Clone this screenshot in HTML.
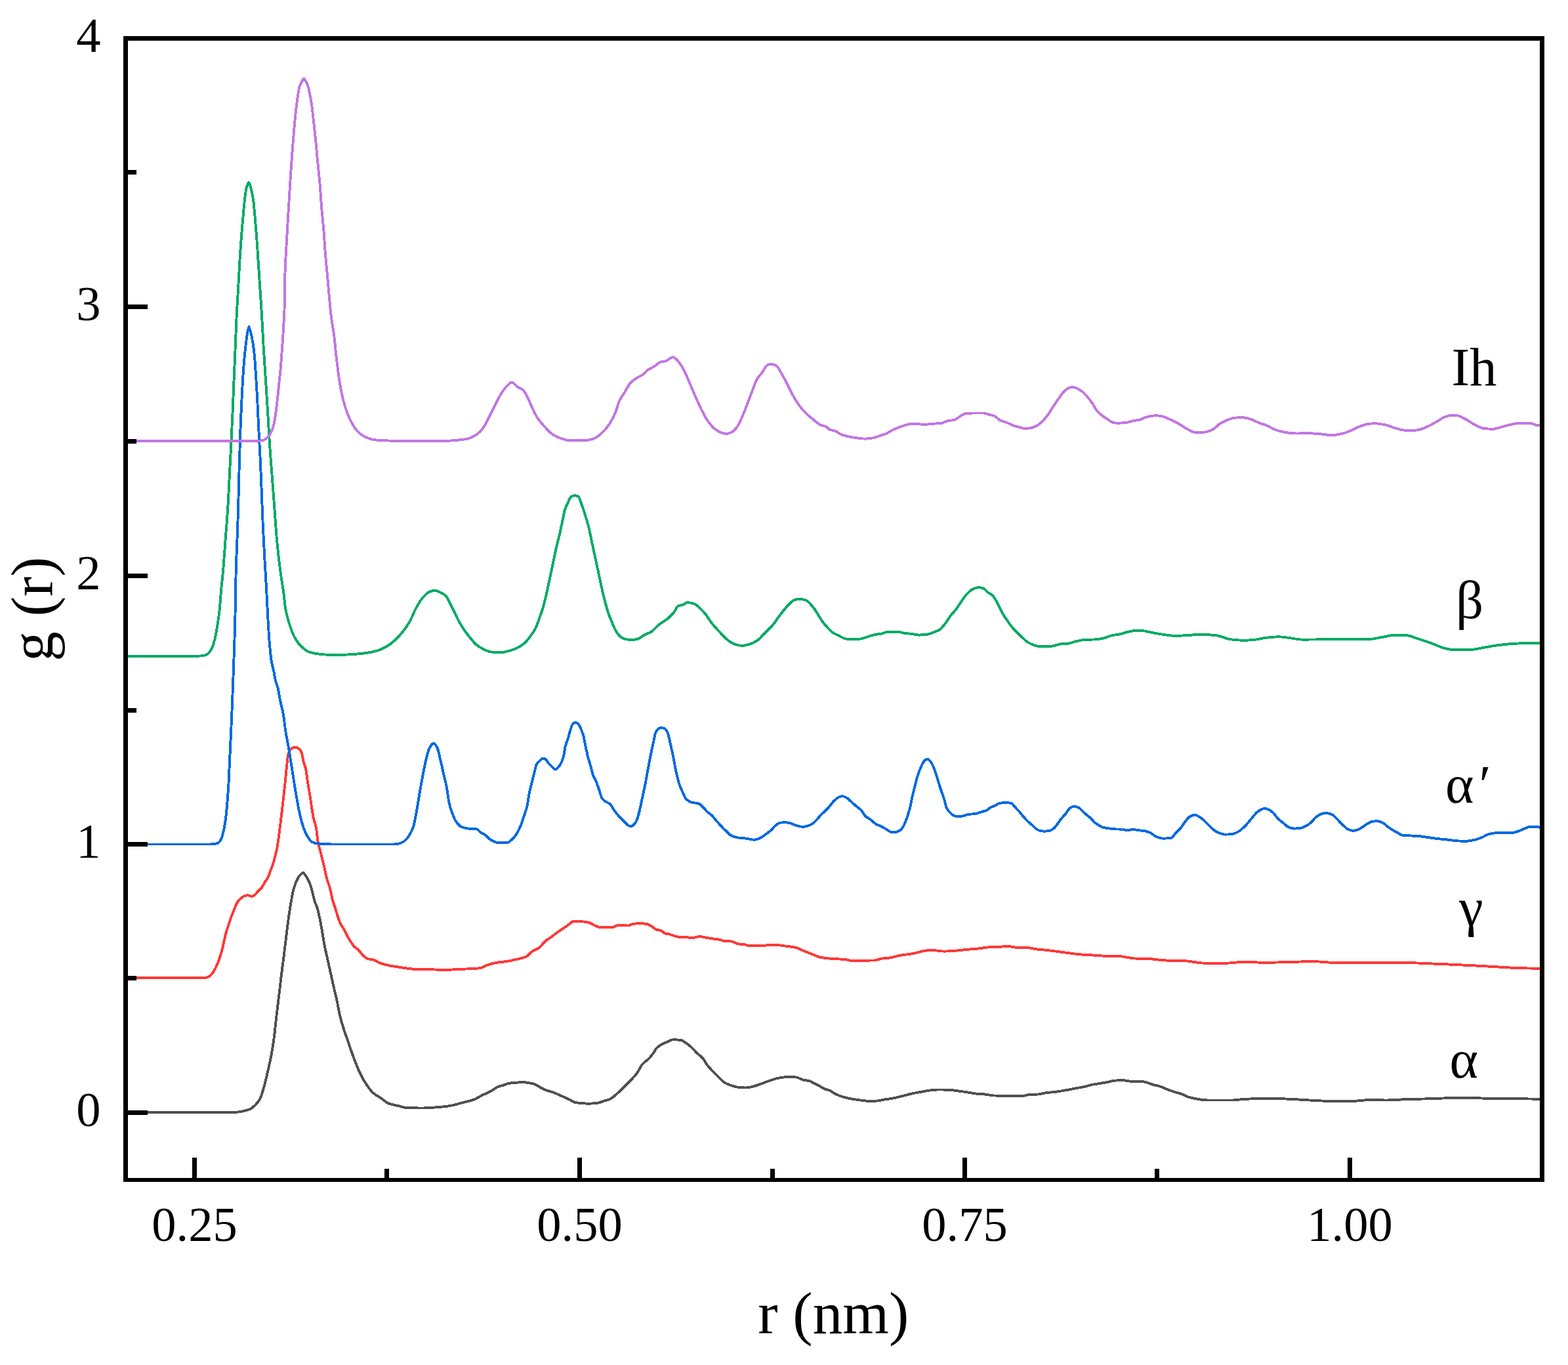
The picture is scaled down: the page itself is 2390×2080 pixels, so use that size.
<!DOCTYPE html>
<html lang="en">
<head>
<meta charset="utf-8">
<title>g(r) radial distribution functions</title>
<style>
html,body{margin:0;padding:0;background:#fff;}
body{width:2390px;height:2080px;overflow:hidden;}
svg{display:block;}
text{font-family:"Liberation Serif","DejaVu Serif",serif;fill:#000;}
.tick{font-size:74.5px;}
.title{font-size:91.1px;}
.lab{font-size:82.8px;}
.curve{fill:none;stroke-width:3.9;stroke-linejoin:bevel;stroke-linecap:butt;shape-rendering:crispEdges;}
</style>
</head>
<body>
<svg width="2390" height="2080" viewBox="0 0 2390 2080">
<rect x="0" y="0" width="2390" height="2080" fill="#fff"/>
<g class="curves">
<path class="curve" stroke="#505050" d="M191.5 1695.0C246.7 1695.0 301.8 1695.0 357.0 1695.0C361.1 1695.0 365.2 1694.1 369.3 1693.4C373.4 1692.7 377.4 1691.7 381.5 1689.9C384.0 1688.8 386.4 1686.4 388.9 1684.0C391.4 1681.6 393.8 1679.0 396.3 1674.5C397.9 1671.5 399.6 1665.7 401.2 1660.3C402.8 1654.9 404.5 1648.1 406.1 1641.4C407.7 1634.7 409.4 1627.8 411.0 1620.1C412.2 1614.3 413.5 1608.4 414.7 1601.2C415.8 1595.0 416.8 1588.1 417.9 1579.9C418.9 1572.5 419.8 1562.3 420.8 1553.9C421.6 1546.6 422.5 1539.5 423.3 1532.6C424.3 1524.5 425.2 1517.0 426.2 1509.0C427.3 1500.1 428.3 1490.3 429.4 1481.7C430.5 1473.1 431.5 1465.6 432.6 1457.1C433.6 1449.2 434.6 1440.8 435.6 1432.6C436.4 1426.0 437.2 1419.1 438.0 1412.9C439.0 1405.1 440.0 1397.5 441.0 1390.8C442.1 1383.7 443.1 1376.9 444.2 1371.2C445.4 1364.7 446.6 1358.2 447.8 1354.0C449.3 1348.7 450.8 1344.9 452.3 1341.7C453.7 1338.8 455.0 1336.3 456.4 1334.6C457.5 1333.3 458.5 1332.2 459.6 1331.4C460.4 1330.8 461.3 1329.9 462.1 1329.9C462.9 1329.9 463.6 1331.5 464.4 1332.4C465.4 1333.7 466.5 1335.1 467.5 1336.8C469.1 1339.5 470.8 1342.6 472.4 1346.7C473.6 1349.8 474.9 1354.4 476.1 1358.9C477.3 1363.4 478.6 1369.8 479.8 1373.7C481.0 1377.6 482.3 1379.5 483.5 1383.5C484.7 1387.4 485.9 1392.7 487.1 1398.2C488.3 1403.9 489.6 1411.0 490.8 1417.9C492.0 1424.8 493.3 1433.6 494.5 1440.0C496.1 1448.4 497.8 1454.7 499.4 1462.1C501.0 1469.5 502.7 1476.9 504.3 1484.2C506.0 1491.7 507.6 1499.2 509.3 1506.6C510.9 1513.8 512.6 1520.2 514.2 1527.9C515.4 1533.7 516.7 1541.6 517.9 1546.8C519.9 1555.4 522.0 1561.7 524.0 1568.1C526.5 1575.9 528.9 1582.3 531.4 1589.4C533.8 1596.5 536.3 1604.2 538.7 1610.7C541.6 1618.4 544.4 1625.8 547.3 1632.0C550.2 1638.2 553.0 1643.9 555.9 1648.5C560.0 1655.0 564.1 1661.3 568.2 1665.0C572.3 1668.7 576.4 1670.5 580.5 1673.3C584.6 1676.1 588.7 1680.1 592.8 1681.6C597.7 1683.4 602.6 1684.0 607.5 1685.2C611.6 1686.2 615.7 1688.1 619.8 1688.2C628.0 1688.4 636.1 1688.5 644.3 1688.5C652.5 1688.5 660.8 1687.6 669.0 1687.0C672.7 1686.7 676.3 1686.4 680.0 1686.0C683.6 1685.6 687.3 1684.8 690.9 1684.0C695.4 1683.0 700.0 1681.5 704.5 1680.3C710.8 1678.6 717.2 1677.6 723.5 1675.2C727.1 1673.8 730.8 1671.0 734.4 1669.2C738.9 1666.9 743.5 1665.3 748.0 1662.9C751.6 1661.0 755.3 1657.5 758.9 1656.1C761.6 1655.0 764.3 1654.5 767.0 1653.7C770.2 1652.7 773.3 1651.2 776.5 1650.7C780.6 1650.1 784.7 1650.0 788.8 1649.6C791.5 1649.3 794.2 1648.8 796.9 1648.8C799.6 1648.8 802.4 1649.7 805.1 1650.1C807.8 1650.5 810.6 1650.8 813.3 1651.5C816.0 1652.2 818.7 1654.2 821.4 1655.6C824.1 1657.1 826.9 1659.1 829.6 1660.2C834.1 1662.1 838.7 1662.9 843.2 1664.6C847.7 1666.3 852.3 1668.5 856.8 1670.5C860.4 1672.1 864.1 1673.7 867.7 1675.4C870.9 1676.9 874.0 1679.6 877.2 1680.1C880.4 1680.6 883.5 1680.9 886.7 1681.1C890.3 1681.4 894.0 1681.7 897.6 1681.7C902.1 1681.7 906.7 1681.2 911.2 1680.6C914.8 1680.1 918.4 1678.4 922.0 1677.3C924.7 1676.4 927.5 1675.9 930.2 1674.6C932.9 1673.3 935.7 1670.7 938.4 1668.4C941.1 1666.2 943.8 1663.6 946.5 1661.0C949.2 1658.4 952.0 1655.6 954.7 1652.9C957.4 1650.2 960.1 1647.6 962.8 1644.7C965.5 1641.7 968.3 1638.9 971.0 1635.2C973.7 1631.5 976.5 1624.7 979.2 1621.6C982.4 1618.0 985.5 1616.6 988.7 1613.4C991.0 1611.1 993.2 1608.3 995.5 1605.3C997.3 1602.9 999.1 1598.9 1000.9 1597.1C1003.6 1594.3 1006.4 1592.6 1009.1 1591.1C1011.8 1589.6 1014.5 1588.7 1017.2 1587.6C1019.9 1586.5 1022.7 1584.3 1025.4 1584.3C1029.5 1584.3 1033.5 1584.5 1037.6 1584.9C1040.3 1585.2 1043.1 1587.7 1045.8 1589.5C1048.5 1591.3 1051.2 1593.4 1053.9 1595.8C1056.6 1598.3 1059.4 1601.9 1062.1 1604.5C1065.3 1607.6 1068.4 1609.2 1071.6 1612.9C1073.4 1615.0 1075.3 1619.1 1077.1 1621.6C1079.8 1625.3 1082.5 1628.2 1085.2 1631.1C1088.4 1634.5 1091.5 1637.5 1094.7 1640.6C1097.9 1643.7 1101.1 1647.7 1104.3 1649.6C1107.9 1651.7 1111.5 1653.1 1115.1 1654.2C1118.7 1655.3 1122.4 1656.6 1126.0 1656.9C1129.6 1657.2 1133.3 1657.5 1136.9 1657.5C1140.5 1657.5 1144.2 1656.4 1147.8 1655.6C1152.3 1654.6 1156.9 1652.6 1161.4 1651.0C1165.9 1649.4 1170.5 1647.6 1175.0 1646.1C1178.6 1644.9 1182.3 1643.4 1185.9 1642.8C1190.4 1642.0 1194.9 1641.2 1199.4 1641.2C1203.9 1641.2 1208.5 1641.3 1213.0 1641.4C1216.6 1641.5 1220.3 1644.6 1223.9 1645.5C1227.5 1646.4 1231.2 1646.4 1234.8 1647.4C1236.5 1647.9 1238.3 1649.5 1240.0 1650.4C1242.7 1651.8 1245.5 1652.8 1248.2 1654.2C1250.9 1655.6 1253.6 1658.0 1256.3 1659.1C1259.0 1660.2 1261.8 1660.5 1264.5 1661.6C1267.2 1662.7 1269.9 1665.1 1272.6 1666.5C1276.2 1668.3 1279.9 1670.0 1283.5 1671.1C1287.1 1672.2 1290.8 1673.1 1294.4 1673.8C1298.9 1674.7 1303.5 1675.4 1308.0 1676.0C1312.5 1676.6 1317.1 1677.6 1321.6 1677.6C1326.1 1677.6 1330.7 1677.6 1335.2 1677.6C1339.7 1677.6 1344.3 1676.1 1348.8 1675.4C1353.3 1674.7 1357.9 1674.2 1362.4 1673.3C1366.9 1672.4 1371.5 1671.1 1376.0 1670.0C1380.5 1668.9 1385.1 1667.5 1389.6 1666.5C1394.1 1665.5 1398.7 1664.8 1403.2 1664.0C1407.7 1663.2 1412.3 1662.1 1416.8 1661.6C1421.3 1661.1 1425.9 1660.5 1430.4 1660.5C1435.8 1660.5 1441.3 1660.6 1446.7 1660.7C1451.2 1660.8 1455.8 1661.8 1460.3 1662.4C1464.8 1663.0 1469.4 1663.6 1473.9 1664.3C1478.4 1665.0 1483.0 1666.0 1487.5 1666.5C1492.0 1667.0 1496.6 1667.1 1501.1 1667.5C1505.6 1667.9 1510.2 1669.4 1514.7 1669.5C1519.2 1669.6 1523.8 1669.7 1528.3 1669.7C1539.2 1669.7 1550.0 1669.7 1560.9 1669.7C1563.6 1669.7 1566.4 1667.9 1569.1 1667.8C1573.6 1667.6 1578.2 1667.7 1582.7 1667.5C1586.3 1667.4 1589.9 1665.9 1593.5 1665.4C1599.0 1664.6 1604.4 1664.4 1609.9 1663.7C1615.3 1663.0 1620.8 1662.0 1626.2 1661.0C1630.7 1660.2 1635.3 1659.1 1639.8 1658.3C1644.3 1657.5 1648.9 1656.9 1653.4 1655.9C1657.0 1655.1 1660.7 1653.6 1664.3 1652.9C1668.8 1652.0 1673.4 1651.5 1677.9 1650.7C1681.5 1650.1 1685.1 1649.5 1688.7 1648.8C1692.3 1648.1 1696.0 1646.9 1699.6 1646.6C1703.2 1646.3 1706.9 1646.1 1710.5 1646.1C1715.0 1646.1 1719.6 1647.6 1724.1 1647.7C1729.5 1647.9 1735.0 1647.8 1740.4 1648.0C1743.1 1648.1 1745.9 1648.9 1748.6 1649.6C1751.3 1650.3 1754.0 1651.8 1756.7 1652.6C1760.3 1653.7 1764.0 1654.2 1767.6 1655.3C1771.2 1656.4 1774.9 1658.3 1778.5 1659.7C1782.1 1661.1 1785.8 1662.5 1789.4 1663.7C1792.9 1664.8 1796.5 1665.5 1800.0 1666.7C1803.6 1667.9 1807.3 1670.3 1810.9 1671.4C1815.4 1672.8 1820.0 1673.9 1824.5 1674.6C1829.9 1675.5 1835.4 1676.5 1840.8 1676.5C1853.5 1676.5 1866.2 1676.5 1878.9 1676.5C1884.3 1676.5 1889.8 1675.2 1895.2 1674.9C1908.8 1674.3 1922.4 1673.8 1936.0 1673.8C1946.9 1673.8 1957.7 1674.4 1968.6 1674.9C1979.5 1675.4 1990.3 1676.3 2001.2 1676.8C2010.3 1677.2 2019.3 1677.9 2028.4 1677.9C2039.3 1677.9 2050.2 1677.9 2061.1 1677.9C2070.2 1677.9 2079.2 1676.0 2088.3 1676.0C2096.5 1676.0 2104.6 1676.5 2112.8 1676.5C2124.6 1676.5 2136.3 1675.2 2148.1 1674.9C2159.0 1674.6 2169.8 1674.6 2180.7 1674.3C2189.8 1674.1 2198.8 1673.3 2207.9 1673.3C2221.5 1673.3 2235.1 1673.3 2248.7 1673.3C2257.8 1673.3 2266.8 1674.0 2275.9 1674.1C2289.5 1674.2 2303.1 1674.2 2316.7 1674.3C2328.0 1674.4 2339.2 1674.6 2350.5 1674.9"/>
<path class="curve" stroke="#FF3838" d="M191.5 1490.0C231.9 1490.0 272.4 1490.0 312.8 1490.0C314.4 1490.0 316.1 1489.3 317.7 1488.6C319.7 1487.7 321.8 1485.5 323.8 1483.0C325.9 1480.5 327.9 1476.2 330.0 1471.9C331.6 1468.5 333.3 1464.4 334.9 1459.6C336.5 1454.8 338.2 1449.0 339.8 1442.4C341.0 1437.4 342.3 1430.0 343.5 1425.2C344.7 1420.4 346.0 1416.9 347.2 1413.0C348.8 1407.8 350.5 1402.7 352.1 1398.2C353.7 1393.7 355.4 1389.9 357.0 1386.0C358.6 1382.1 360.3 1377.3 361.9 1374.9C363.9 1371.9 366.0 1369.9 368.0 1368.3C369.7 1367.0 371.3 1365.5 373.0 1365.1C374.6 1364.7 376.3 1364.3 377.9 1364.3C379.9 1364.3 382.0 1365.8 384.0 1365.8C385.2 1365.8 386.5 1365.0 387.7 1364.3C389.3 1363.4 391.0 1360.6 392.6 1358.9C394.6 1356.8 396.7 1355.4 398.7 1352.8C400.4 1350.7 402.0 1346.9 403.7 1344.2C405.3 1341.6 407.0 1340.0 408.6 1336.8C409.8 1334.4 411.0 1330.2 412.2 1327.0C413.4 1323.7 414.7 1320.9 415.9 1317.2C416.8 1314.4 417.8 1311.1 418.7 1307.5C419.8 1303.2 421.0 1298.7 422.1 1292.9C422.9 1288.8 423.7 1283.7 424.5 1278.2C425.3 1272.5 426.2 1265.2 427.0 1258.5C427.8 1252.1 428.6 1245.7 429.4 1238.9C430.2 1231.8 431.1 1224.2 431.9 1216.8C432.7 1209.4 433.6 1202.6 434.4 1194.7C435.2 1187.1 436.0 1177.3 436.8 1170.1C437.6 1162.6 438.5 1153.1 439.3 1150.0C440.5 1145.4 441.8 1142.4 443.0 1141.5C445.4 1139.8 447.9 1138.7 450.3 1138.7C452.4 1138.7 454.4 1139.9 456.5 1141.5C457.7 1142.4 458.9 1144.7 460.1 1148.0C460.9 1150.3 461.8 1157.0 462.6 1160.3C463.8 1165.3 465.1 1166.8 466.3 1172.6C467.1 1176.3 467.9 1184.6 468.7 1189.8C469.9 1197.9 471.2 1204.0 472.4 1211.9C473.2 1217.3 474.1 1223.7 474.9 1229.1C475.7 1234.3 476.5 1239.8 477.3 1243.8C478.9 1251.9 480.6 1254.5 482.2 1263.5C483.0 1268.1 483.9 1278.6 484.7 1283.1C485.9 1289.7 487.2 1292.9 488.4 1297.8C489.3 1301.5 490.3 1305.3 491.2 1309.0C492.3 1313.4 493.4 1317.3 494.5 1322.0C495.7 1327.3 497.0 1334.7 498.2 1339.3C499.8 1345.3 501.5 1348.0 503.1 1354.0C504.3 1358.5 505.6 1366.6 506.8 1371.2C508.4 1377.2 510.1 1380.8 511.7 1386.0C512.9 1389.9 514.2 1394.6 515.4 1398.2C516.6 1401.8 517.9 1405.6 519.1 1408.0C520.7 1411.2 522.4 1412.6 524.0 1415.4C525.6 1418.2 527.3 1422.1 528.9 1425.2C530.5 1428.3 532.2 1431.3 533.8 1433.8C535.9 1437.0 537.9 1440.3 540.0 1442.4C542.0 1444.5 544.1 1445.4 546.1 1447.3C548.6 1449.6 551.0 1453.7 553.5 1455.9C555.9 1458.1 558.4 1460.8 560.8 1461.3C563.3 1461.8 565.7 1461.7 568.2 1462.1C571.5 1462.7 574.7 1465.8 578.0 1467.0C582.1 1468.6 586.2 1469.8 590.3 1470.7C596.0 1472.0 601.8 1472.7 607.5 1473.6C615.7 1474.8 623.8 1476.5 632.0 1476.8C640.2 1477.1 648.4 1477.1 656.6 1477.3C664.4 1477.5 672.2 1477.9 680.0 1477.9C685.4 1477.9 690.9 1477.3 696.3 1477.1C702.7 1476.8 709.0 1476.6 715.4 1476.3C720.8 1476.0 726.3 1475.9 731.7 1475.2C735.3 1474.8 739.0 1471.8 742.6 1470.6C747.1 1469.1 751.6 1467.8 756.1 1467.0C761.6 1466.0 767.0 1465.8 772.5 1464.9C777.0 1464.2 781.6 1463.2 786.1 1462.1C791.5 1460.8 797.0 1460.0 802.4 1457.5C805.1 1456.3 807.8 1452.0 810.5 1450.2C814.1 1447.8 817.8 1447.1 821.4 1444.5C824.6 1442.3 827.7 1437.1 830.9 1434.4C834.1 1431.7 837.3 1429.9 840.5 1427.6C844.1 1425.0 847.7 1421.9 851.3 1419.4C854.5 1417.2 857.7 1415.4 860.9 1413.2C863.6 1411.3 866.3 1409.2 869.0 1407.2C870.5 1406.1 872.1 1403.9 873.6 1403.9C878.9 1403.9 884.1 1404.2 889.4 1404.5C892.1 1404.7 894.9 1405.1 897.6 1405.8C900.3 1406.5 903.0 1408.7 905.7 1409.9C908.0 1410.9 910.2 1412.3 912.5 1412.6C915.7 1413.0 918.8 1413.2 922.0 1413.2C925.6 1413.2 929.3 1413.2 932.9 1413.2C936.1 1413.2 939.2 1409.9 942.4 1409.9C947.4 1409.9 952.4 1410.5 957.4 1410.5C960.1 1410.5 962.9 1407.9 965.6 1407.7C969.2 1407.4 972.8 1407.2 976.4 1407.2C979.6 1407.2 982.8 1407.5 986.0 1408.0C988.7 1408.4 991.4 1410.5 994.1 1412.1C996.4 1413.4 998.6 1416.0 1000.9 1416.7C1003.2 1417.4 1005.4 1417.4 1007.7 1418.1C1009.5 1418.7 1011.4 1421.6 1013.2 1422.2C1015.4 1422.9 1017.7 1423.0 1019.9 1423.5C1022.2 1424.0 1024.4 1425.0 1026.7 1425.7C1029.4 1426.5 1032.2 1427.8 1034.9 1427.9C1039.0 1428.0 1043.0 1428.0 1047.1 1428.1C1049.4 1428.2 1051.6 1429.5 1053.9 1429.5C1058.0 1429.5 1062.1 1427.1 1066.2 1427.1C1069.8 1427.1 1073.5 1428.4 1077.1 1429.0C1080.7 1429.6 1084.3 1430.1 1087.9 1430.6C1090.6 1431.0 1093.4 1431.2 1096.1 1431.7C1099.3 1432.3 1102.4 1434.4 1105.6 1434.4C1108.3 1434.4 1111.1 1434.4 1113.8 1434.4C1117.9 1434.4 1121.9 1438.1 1126.0 1438.5C1128.7 1438.8 1131.5 1438.7 1134.2 1439.0C1136.9 1439.3 1139.6 1441.2 1142.3 1441.2C1145.9 1441.2 1149.6 1441.2 1153.2 1441.2C1158.6 1441.2 1164.1 1440.7 1169.5 1440.4C1173.1 1440.2 1176.8 1439.8 1180.4 1439.8C1185.8 1439.8 1191.3 1440.8 1196.7 1441.5C1202.6 1442.2 1208.5 1442.8 1214.4 1444.2C1217.6 1445.0 1220.7 1447.2 1223.9 1448.5C1229.3 1450.8 1234.6 1452.7 1240.0 1454.8C1243.6 1456.2 1247.3 1458.2 1250.9 1458.9C1256.3 1459.9 1261.8 1460.4 1267.2 1460.8C1274.5 1461.4 1281.7 1461.4 1289.0 1462.1C1291.7 1462.4 1294.4 1463.8 1297.1 1463.8C1308.9 1463.8 1320.7 1463.7 1332.5 1463.5C1336.1 1463.4 1339.7 1461.3 1343.3 1460.8C1347.8 1460.1 1352.4 1460.1 1356.9 1459.4C1361.4 1458.7 1366.0 1456.9 1370.5 1456.1C1376.9 1454.9 1383.2 1454.5 1389.6 1453.4C1394.1 1452.6 1398.7 1451.1 1403.2 1450.2C1407.7 1449.3 1412.3 1448.0 1416.8 1448.0C1420.4 1448.0 1424.1 1448.3 1427.7 1448.5C1431.3 1448.7 1434.9 1449.6 1438.5 1449.6C1443.9 1449.6 1449.4 1449.2 1454.8 1448.8C1461.2 1448.4 1467.5 1447.5 1473.9 1446.9C1480.2 1446.3 1486.6 1446.0 1492.9 1445.3C1497.4 1444.8 1502.0 1443.7 1506.5 1443.4C1511.9 1443.1 1517.4 1443.0 1522.8 1442.8C1527.3 1442.6 1531.9 1442.0 1536.4 1442.0C1540.9 1442.0 1545.5 1443.7 1550.0 1443.9C1555.4 1444.1 1560.9 1444.0 1566.3 1444.2C1570.8 1444.4 1575.4 1445.8 1579.9 1446.4C1585.4 1447.1 1590.8 1447.4 1596.3 1448.0C1602.6 1448.7 1609.0 1449.6 1615.3 1450.4C1620.7 1451.1 1626.2 1451.9 1631.6 1452.6C1637.0 1453.3 1642.5 1454.1 1647.9 1454.5C1654.3 1455.0 1660.6 1455.2 1667.0 1455.6C1672.4 1455.9 1677.9 1456.5 1683.3 1456.7C1691.5 1457.0 1699.6 1456.9 1707.8 1457.2C1711.4 1457.3 1715.0 1458.4 1718.6 1458.9C1722.2 1459.5 1725.9 1460.3 1729.5 1460.5C1736.8 1460.8 1744.0 1460.7 1751.3 1461.0C1756.7 1461.2 1762.2 1462.3 1767.6 1462.7C1773.0 1463.1 1778.5 1463.8 1783.9 1463.8C1789.3 1463.8 1794.6 1463.7 1800.0 1463.7C1805.4 1463.7 1810.9 1464.8 1816.3 1465.4C1822.7 1466.1 1829.0 1467.6 1835.4 1467.6C1847.2 1467.6 1858.9 1467.6 1870.7 1467.6C1878.9 1467.6 1887.0 1465.7 1895.2 1465.7C1906.1 1465.7 1916.9 1466.8 1927.8 1466.8C1941.4 1466.8 1955.0 1466.2 1968.6 1465.9C1979.5 1465.6 1990.3 1465.1 2001.2 1465.1C2011.2 1465.1 2021.2 1466.6 2031.2 1466.8C2048.4 1467.1 2065.6 1467.3 2082.8 1467.3C2095.5 1467.3 2108.2 1466.8 2120.9 1466.8C2131.8 1466.8 2142.6 1467.1 2153.5 1467.3C2162.6 1467.5 2171.6 1468.0 2180.7 1468.4C2189.8 1468.8 2198.8 1469.1 2207.9 1469.5C2217.0 1469.9 2226.0 1470.4 2235.1 1470.8C2244.2 1471.2 2253.2 1471.7 2262.3 1472.2C2271.4 1472.7 2280.4 1473.3 2289.5 1473.8C2298.6 1474.3 2307.6 1475.0 2316.7 1475.2C2328.0 1475.5 2339.2 1475.7 2350.5 1475.7"/>
<path class="curve" stroke="#0069E0" d="M191.5 1286.5C234.4 1286.5 277.3 1286.5 320.2 1286.5C323.9 1286.5 327.5 1286.0 331.2 1285.0C332.8 1284.6 334.5 1282.9 336.1 1280.6C337.5 1278.7 338.9 1273.8 340.3 1268.4C341.4 1264.3 342.4 1258.5 343.5 1251.2C344.3 1245.7 345.1 1237.8 345.9 1229.0C346.7 1219.8 347.6 1208.9 348.4 1194.7C349.0 1185.0 349.5 1170.0 350.1 1157.9C350.8 1143.7 351.4 1130.8 352.1 1116.1C352.7 1102.1 353.4 1087.8 354.0 1071.9C354.6 1056.8 355.2 1039.6 355.8 1022.8C356.4 1006.9 356.9 992.3 357.5 973.7C357.8 962.8 358.2 952.8 358.5 936.8C358.7 928.8 358.8 914.7 359.0 905.0C359.2 893.3 359.4 880.5 359.6 872.9C360.2 850.0 360.8 840.6 361.4 823.8C362.0 807.9 362.5 794.1 363.1 774.7C363.5 761.0 363.9 740.5 364.3 725.6C364.9 702.0 365.6 679.2 366.2 661.7C366.9 641.5 367.7 625.6 368.4 610.6C369.2 594.3 370.0 579.0 370.8 567.1C371.4 558.7 371.9 551.4 372.5 545.3C373.3 536.7 374.1 530.0 374.9 523.5C375.7 517.0 376.5 509.9 377.3 506.1C377.7 504.2 378.1 503.1 378.5 501.6C378.8 500.3 379.2 497.7 379.5 497.7C379.9 497.7 380.3 500.3 380.7 501.6C381.2 503.1 381.6 504.3 382.1 506.1C383.3 510.5 384.4 516.1 385.6 523.5C386.5 529.0 387.3 535.9 388.2 545.3C388.7 550.7 389.2 559.6 389.7 567.1C390.2 574.1 390.6 581.1 391.1 588.9C391.5 595.6 391.9 602.8 392.3 610.6C393.0 623.7 393.6 640.7 394.3 654.2C395.1 669.8 395.8 681.5 396.6 697.7C397.3 711.7 397.9 728.6 398.6 745.0C399.3 762.3 400.0 783.5 400.7 799.2C401.5 817.9 402.4 833.2 403.2 848.4C404.2 866.0 405.1 879.8 406.1 897.5C406.8 909.7 407.4 924.7 408.1 936.8C408.8 950.1 409.6 964.4 410.3 973.7C411.4 987.3 412.4 998.8 413.5 1005.6C414.7 1013.5 416.0 1016.8 417.2 1022.8C418.2 1027.5 419.1 1033.8 420.1 1037.5C421.2 1041.6 422.2 1043.2 423.3 1047.3C424.5 1052.1 425.8 1061.0 427.0 1067.0C428.6 1075.0 430.3 1079.9 431.9 1089.1C433.1 1096.1 434.4 1108.5 435.6 1116.1C436.8 1123.7 438.1 1128.8 439.3 1135.8C440.5 1142.6 441.7 1150.4 442.9 1157.9C444.6 1168.3 446.2 1179.5 447.9 1189.8C449.5 1199.9 451.2 1210.3 452.8 1219.2C454.4 1228.1 456.1 1237.1 457.7 1243.8C459.3 1250.5 461.0 1256.5 462.6 1261.0C464.6 1266.6 466.7 1271.2 468.7 1274.5C470.8 1277.9 472.8 1281.5 474.9 1282.6C478.2 1284.3 481.4 1285.3 484.7 1285.6C492.1 1286.2 499.4 1286.5 506.8 1286.5C537.9 1286.5 568.9 1286.5 600.0 1286.5C602.5 1286.5 605.0 1286.1 607.5 1285.6C610.4 1285.1 613.2 1283.7 616.1 1281.9C618.6 1280.3 621.0 1277.0 623.5 1273.3C625.5 1270.3 627.6 1266.7 629.6 1261.0C631.2 1256.4 632.9 1247.3 634.5 1238.9C636.1 1230.5 637.8 1218.8 639.4 1209.4C641.0 1200.0 642.7 1191.0 644.3 1182.4C645.9 1173.8 647.6 1164.3 649.2 1157.9C651.3 1149.8 653.3 1141.4 655.4 1138.2C657.3 1135.3 659.1 1132.5 661.0 1132.5C662.8 1132.5 664.6 1135.9 666.4 1139.4C668.0 1142.5 669.7 1151.3 671.3 1157.9C673.0 1164.7 674.6 1172.8 676.3 1180.0C677.7 1186.1 679.1 1190.9 680.5 1198.0C682.0 1205.4 683.4 1218.9 684.9 1225.0C686.4 1231.4 688.0 1235.5 689.5 1239.5C691.3 1244.3 693.2 1249.1 695.0 1251.7C697.7 1255.5 700.4 1258.8 703.1 1259.9C706.7 1261.4 710.4 1262.3 714.0 1262.6C718.1 1262.9 722.1 1262.8 726.2 1263.2C728.5 1263.4 730.7 1267.5 733.0 1268.9C734.8 1270.0 736.7 1270.5 738.5 1271.6C741.7 1273.5 744.8 1278.0 748.0 1279.7C751.6 1281.7 755.3 1283.9 758.9 1284.1C763.4 1284.3 768.0 1284.4 772.5 1284.4C775.2 1284.4 777.9 1281.3 780.6 1278.9C782.9 1276.9 785.1 1274.2 787.4 1270.8C789.2 1268.0 791.1 1264.1 792.9 1259.9C794.7 1255.7 796.5 1250.3 798.3 1244.9C800.1 1239.5 801.9 1235.3 803.7 1227.3C804.6 1223.1 805.6 1214.3 806.5 1209.6C807.8 1202.9 809.2 1198.7 810.5 1193.3C811.9 1187.8 813.2 1182.1 814.6 1176.9C815.8 1172.4 817.0 1165.8 818.2 1163.9C819.7 1161.4 821.3 1160.7 822.8 1159.3C824.2 1158.0 825.5 1155.7 826.9 1155.7C828.2 1155.7 829.6 1156.1 830.9 1156.5C832.7 1157.1 834.6 1161.3 836.4 1163.3C838.2 1165.3 840.0 1167.3 841.8 1168.8C843.4 1170.2 845.1 1172.3 846.7 1172.3C848.9 1172.3 851.0 1169.1 853.2 1166.1C855.1 1163.5 857.1 1159.2 859.0 1152.5C859.9 1149.4 860.8 1141.1 861.7 1137.5C863.2 1131.4 864.8 1128.9 866.3 1123.9C867.7 1119.4 869.0 1112.6 870.4 1109.0C871.5 1106.2 872.5 1103.1 873.6 1102.4C874.8 1101.6 876.0 1101.0 877.2 1101.0C878.6 1101.0 879.9 1101.9 881.3 1103.0C882.6 1104.0 884.0 1107.4 885.3 1110.3C886.5 1112.9 887.7 1115.7 888.9 1119.8C890.0 1123.4 891.0 1129.8 892.1 1134.8C893.5 1141.2 894.8 1148.5 896.2 1153.8C897.6 1159.1 898.9 1162.6 900.3 1167.4C901.7 1172.2 903.0 1178.9 904.4 1182.4C905.8 1185.9 907.1 1187.4 908.5 1190.5C909.8 1193.6 911.2 1197.7 912.5 1201.4C914.3 1206.5 916.2 1214.9 918.0 1217.2C920.3 1220.0 922.5 1221.0 924.8 1222.4C926.6 1223.6 928.4 1223.9 930.2 1225.4C932.0 1226.9 933.9 1231.5 935.7 1234.1C938.0 1237.3 940.2 1240.3 942.5 1242.8C944.8 1245.3 947.0 1247.3 949.3 1249.6C951.1 1251.4 952.9 1253.3 954.7 1255.0C956.1 1256.3 957.4 1258.3 958.8 1258.5C960.2 1258.7 961.5 1258.8 962.9 1258.8C964.2 1258.8 965.6 1257.2 966.9 1255.8C968.3 1254.4 969.6 1252.1 971.0 1249.0C972.4 1245.9 973.7 1239.7 975.1 1234.1C976.5 1228.5 977.8 1221.3 979.2 1215.0C980.6 1208.7 981.9 1202.8 983.3 1196.0C984.6 1189.3 986.0 1181.4 987.3 1174.2C988.7 1166.9 990.0 1159.3 991.4 1152.5C992.8 1145.7 994.1 1139.5 995.5 1133.4C996.9 1127.3 998.2 1118.5 999.6 1115.7C1001.0 1112.9 1002.3 1111.1 1003.7 1110.3C1005.0 1109.5 1006.4 1108.8 1007.7 1108.8C1009.5 1108.8 1011.4 1109.4 1013.2 1110.3C1014.6 1110.9 1015.9 1113.0 1017.3 1115.7C1018.6 1118.3 1020.0 1125.2 1021.3 1130.7C1022.7 1136.4 1024.0 1143.1 1025.4 1149.7C1026.3 1154.1 1027.2 1158.8 1028.1 1163.3C1029.0 1167.8 1029.9 1172.9 1030.8 1176.9C1032.2 1183.0 1033.5 1189.1 1034.9 1193.3C1036.7 1199.0 1038.6 1202.8 1040.4 1206.9C1042.2 1210.9 1044.0 1216.0 1045.8 1217.7C1048.5 1220.3 1051.3 1221.8 1054.0 1222.6C1057.6 1223.6 1061.2 1223.4 1064.8 1224.5C1067.1 1225.2 1069.3 1227.9 1071.6 1230.0C1073.9 1232.1 1076.1 1235.2 1078.4 1237.3C1080.7 1239.4 1082.9 1240.6 1085.2 1242.8C1087.5 1245.0 1089.7 1248.3 1092.0 1250.9C1094.7 1254.0 1097.5 1257.0 1100.2 1259.9C1102.5 1262.3 1104.7 1264.5 1107.0 1266.7C1109.3 1268.9 1111.5 1271.7 1113.8 1272.9C1117.0 1274.5 1120.1 1275.7 1123.3 1276.2C1127.8 1276.9 1132.4 1277.0 1136.9 1277.6C1141.0 1278.1 1145.0 1279.7 1149.1 1279.7C1152.3 1279.7 1155.5 1278.3 1158.7 1277.0C1161.4 1275.9 1164.1 1273.5 1166.8 1271.6C1169.5 1269.6 1172.3 1267.7 1175.0 1265.3C1177.7 1263.0 1180.4 1259.2 1183.1 1257.2C1184.9 1255.8 1186.8 1254.2 1188.6 1253.9C1191.3 1253.4 1194.0 1253.1 1196.7 1253.1C1199.4 1253.1 1202.2 1253.8 1204.9 1254.5C1207.6 1255.1 1210.3 1257.0 1213.0 1257.7C1216.6 1258.7 1220.3 1259.9 1223.9 1259.9C1227.5 1259.9 1231.2 1258.6 1234.8 1257.2C1236.5 1256.6 1238.3 1255.3 1240.0 1254.0C1243.6 1251.2 1247.3 1245.9 1250.9 1242.2C1254.5 1238.5 1258.2 1235.8 1261.8 1231.9C1264.5 1229.0 1267.2 1224.5 1269.9 1221.8C1272.6 1219.1 1275.4 1216.3 1278.1 1215.0C1279.9 1214.1 1281.7 1213.1 1283.5 1213.1C1285.8 1213.1 1288.0 1214.4 1290.3 1215.6C1293.0 1217.0 1295.8 1220.2 1298.5 1222.6C1300.8 1224.6 1303.0 1226.7 1305.3 1228.6C1307.6 1230.5 1309.8 1231.8 1312.1 1234.1C1314.4 1236.4 1316.6 1241.5 1318.9 1243.6C1321.6 1246.1 1324.3 1247.0 1327.0 1249.0C1329.7 1251.0 1332.5 1254.2 1335.2 1255.8C1337.9 1257.3 1340.6 1258.0 1343.3 1259.3C1346.0 1260.6 1348.8 1262.4 1351.5 1264.0C1353.8 1265.3 1356.0 1268.0 1358.3 1268.0C1360.6 1268.0 1362.8 1268.0 1365.1 1268.0C1367.4 1268.0 1369.6 1266.7 1371.9 1265.3C1373.7 1264.2 1375.5 1261.5 1377.3 1258.5C1379.1 1255.4 1381.0 1250.1 1382.8 1244.9C1384.2 1241.0 1385.5 1236.6 1386.9 1231.3C1388.2 1226.1 1389.6 1218.1 1390.9 1212.3C1392.3 1206.4 1393.6 1201.2 1395.0 1196.0C1396.4 1190.8 1397.7 1185.2 1399.1 1181.0C1400.5 1176.8 1401.8 1173.2 1403.2 1170.1C1404.8 1166.4 1406.5 1162.5 1408.1 1160.6C1409.8 1158.7 1411.5 1156.5 1413.2 1156.5C1414.8 1156.5 1416.5 1158.4 1418.1 1160.1C1419.7 1161.8 1421.2 1165.3 1422.8 1168.8C1424.4 1172.4 1426.1 1177.4 1427.7 1182.4C1429.0 1186.5 1430.4 1191.8 1431.7 1196.0C1433.1 1200.3 1434.4 1204.1 1435.8 1208.2C1437.2 1212.3 1438.5 1215.9 1439.9 1220.5C1440.8 1223.5 1441.7 1228.9 1442.6 1230.8C1444.4 1234.6 1446.3 1236.2 1448.1 1238.1C1449.9 1240.0 1451.7 1242.1 1453.5 1242.8C1455.8 1243.7 1458.0 1244.4 1460.3 1244.4C1463.0 1244.4 1465.7 1243.8 1468.4 1243.3C1471.1 1242.8 1473.9 1241.3 1476.6 1240.9C1480.2 1240.4 1483.9 1240.5 1487.5 1240.0C1490.2 1239.6 1492.9 1238.1 1495.6 1237.3C1498.3 1236.4 1501.1 1236.1 1503.8 1234.9C1505.6 1234.1 1507.4 1231.8 1509.2 1230.8C1511.9 1229.3 1514.7 1228.6 1517.4 1227.3C1519.7 1226.2 1521.9 1223.9 1524.2 1223.7C1527.4 1223.4 1530.5 1223.2 1533.7 1223.2C1536.0 1223.2 1538.2 1223.4 1540.5 1223.7C1542.8 1224.0 1545.0 1227.7 1547.3 1230.0C1549.6 1232.3 1551.8 1234.7 1554.1 1237.3C1556.4 1239.9 1558.6 1243.0 1560.9 1245.5C1563.2 1248.0 1565.4 1250.5 1567.7 1252.6C1570.0 1254.7 1572.2 1256.5 1574.5 1258.5C1576.3 1260.1 1578.2 1262.3 1580.0 1263.4C1581.8 1264.5 1583.6 1265.6 1585.4 1265.9C1587.7 1266.3 1589.9 1266.7 1592.2 1266.7C1595.4 1266.7 1598.5 1266.1 1601.7 1265.3C1603.5 1264.8 1605.3 1263.0 1607.1 1261.3C1608.9 1259.6 1610.8 1256.9 1612.6 1254.5C1614.4 1252.2 1616.2 1249.3 1618.0 1247.1C1620.3 1244.3 1622.5 1242.3 1624.8 1239.5C1626.6 1237.2 1628.5 1233.2 1630.3 1231.9C1632.6 1230.2 1634.8 1228.6 1637.1 1228.6C1639.4 1228.6 1641.6 1229.5 1643.9 1230.5C1646.2 1231.5 1648.4 1234.8 1650.7 1236.8C1653.0 1238.8 1655.2 1240.9 1657.5 1242.8C1659.3 1244.3 1661.1 1245.4 1662.9 1247.1C1664.7 1248.8 1666.5 1251.6 1668.3 1253.1C1670.6 1255.0 1672.8 1256.3 1675.1 1257.7C1676.9 1258.8 1678.8 1260.2 1680.6 1260.7C1683.3 1261.4 1686.0 1261.7 1688.7 1262.1C1692.3 1262.6 1696.0 1263.2 1699.6 1263.4C1703.2 1263.6 1706.9 1263.5 1710.5 1263.7C1712.8 1263.8 1715.0 1265.3 1717.3 1265.3C1720.5 1265.3 1723.6 1264.0 1726.8 1264.0C1730.0 1264.0 1733.1 1264.9 1736.3 1265.3C1739.0 1265.6 1741.8 1265.7 1744.5 1266.1C1747.7 1266.6 1750.8 1267.9 1754.0 1269.4C1756.7 1270.7 1759.5 1273.8 1762.2 1274.8C1765.8 1276.2 1769.4 1277.6 1773.0 1277.6C1777.1 1277.6 1781.2 1277.4 1785.3 1276.8C1787.6 1276.5 1789.8 1271.8 1792.1 1269.4C1794.7 1266.7 1797.4 1264.6 1800.0 1261.5C1802.3 1258.8 1804.5 1254.5 1806.8 1251.7C1809.1 1248.9 1811.3 1245.7 1813.6 1244.4C1815.9 1243.1 1818.1 1241.7 1820.4 1241.7C1823.1 1241.7 1825.9 1243.4 1828.6 1244.9C1831.8 1246.6 1834.9 1250.2 1838.1 1253.1C1841.3 1256.0 1844.4 1260.1 1847.6 1262.6C1850.8 1265.1 1853.9 1267.7 1857.1 1268.9C1860.7 1270.2 1864.4 1271.6 1868.0 1271.6C1871.6 1271.6 1875.3 1271.3 1878.9 1270.8C1882.1 1270.4 1885.2 1268.5 1888.4 1266.7C1891.6 1264.9 1894.7 1261.6 1897.9 1258.5C1901.1 1255.4 1904.2 1251.3 1907.4 1247.6C1910.1 1244.4 1912.9 1240.4 1915.6 1238.1C1917.9 1236.2 1920.1 1234.4 1922.4 1233.5C1924.2 1232.8 1926.0 1231.9 1927.8 1231.9C1930.1 1231.9 1932.3 1233.1 1934.6 1234.1C1936.9 1235.1 1939.1 1237.3 1941.4 1239.5C1943.7 1241.7 1945.9 1245.4 1948.2 1247.6C1950.9 1250.3 1953.7 1252.3 1956.4 1254.5C1959.1 1256.7 1961.8 1259.7 1964.5 1260.7C1967.2 1261.7 1970.0 1262.6 1972.7 1262.6C1975.9 1262.6 1979.0 1262.2 1982.2 1261.8C1985.4 1261.4 1988.5 1259.7 1991.7 1258.0C1994.4 1256.6 1997.2 1254.2 1999.9 1251.7C2002.2 1249.7 2004.4 1246.0 2006.7 1244.4C2009.4 1242.4 2012.2 1240.7 2014.9 1240.0C2017.1 1239.4 2019.4 1238.9 2021.6 1238.9C2024.3 1238.9 2027.1 1239.9 2029.8 1240.9C2032.5 1241.9 2035.3 1245.6 2038.0 1248.2C2040.7 1250.8 2043.4 1253.9 2046.1 1256.4C2048.8 1258.9 2051.6 1262.2 2054.3 1263.4C2057.0 1264.6 2059.7 1265.9 2062.4 1265.9C2064.7 1265.9 2066.9 1265.2 2069.2 1264.5C2071.9 1263.7 2074.7 1261.6 2077.4 1259.9C2080.1 1258.2 2082.9 1255.9 2085.6 1254.5C2087.9 1253.4 2090.1 1252.0 2092.4 1251.7C2094.7 1251.4 2096.9 1251.2 2099.2 1251.2C2101.9 1251.2 2104.6 1252.4 2107.3 1253.6C2110.0 1254.8 2112.8 1257.9 2115.5 1259.9C2118.2 1261.8 2120.9 1263.7 2123.6 1265.3C2125.9 1266.6 2128.1 1267.7 2130.4 1268.9C2132.7 1270.1 2134.9 1272.4 2137.2 1272.7C2141.7 1273.2 2146.3 1273.2 2150.8 1273.5C2155.3 1273.8 2159.9 1273.9 2164.4 1274.3C2168.9 1274.7 2173.5 1275.6 2178.0 1276.2C2182.5 1276.8 2187.1 1277.6 2191.6 1278.1C2197.0 1278.7 2202.5 1279.1 2207.9 1279.7C2212.4 1280.2 2217.0 1281.2 2221.5 1281.4C2226.0 1281.6 2230.6 1281.7 2235.1 1281.7C2239.6 1281.7 2244.2 1280.5 2248.7 1279.5C2252.3 1278.7 2256.0 1277.2 2259.6 1275.7C2262.3 1274.6 2265.1 1272.4 2267.8 1271.6C2271.4 1270.5 2275.1 1269.4 2278.7 1269.4C2286.8 1269.4 2295.0 1269.4 2303.1 1269.4C2306.7 1269.4 2310.4 1267.8 2314.0 1266.7C2317.6 1265.6 2321.3 1263.4 2324.9 1262.1C2327.6 1261.1 2330.4 1259.6 2333.1 1259.6C2335.4 1259.6 2337.6 1259.8 2339.9 1259.9C2343.4 1260.1 2347.0 1260.6 2350.5 1261.3"/>
<path class="curve" stroke="#00AB64" d="M191.5 1000.0C226.2 1000.0 260.9 1000.0 295.6 1000.0C300.5 1000.0 305.4 999.6 310.3 999.0C312.4 998.7 314.4 997.8 316.5 996.5C318.5 995.2 320.6 992.2 322.6 988.4C324.2 985.4 325.9 980.1 327.5 973.7C328.7 968.9 330.0 961.6 331.2 954.0C332.4 946.4 333.7 938.8 334.9 927.0C335.6 920.3 336.3 907.8 337.0 900.0C337.9 889.6 338.9 883.3 339.8 872.9C341.0 859.2 342.3 840.2 343.5 823.8C344.7 807.4 346.0 794.1 347.2 774.7C348.1 761.1 348.9 742.3 349.8 725.6C350.6 709.5 351.5 693.5 352.3 676.4C353.1 660.7 353.8 644.8 354.6 627.3C355.3 612.1 355.9 594.2 356.6 578.2C357.3 561.4 358.0 545.8 358.7 529.1C359.2 516.3 359.8 501.3 360.3 490.0C361.4 466.0 362.6 448.2 363.7 428.4C364.7 411.5 365.6 393.3 366.6 379.2C367.8 361.3 369.1 346.9 370.3 332.6C371.1 323.0 372.0 312.8 372.8 305.6C373.6 299.0 374.3 292.6 375.1 289.0C375.8 285.6 376.6 283.1 377.3 281.3C377.9 279.8 378.5 277.8 379.1 277.8C379.7 277.8 380.3 279.8 380.9 281.3C381.6 283.1 382.4 285.9 383.1 289.0C384.1 293.3 385.2 298.2 386.2 305.6C387.1 311.8 387.9 322.8 388.8 332.6C389.4 339.4 390.0 347.0 390.6 354.7C391.2 362.4 391.8 370.5 392.4 379.2C392.9 386.9 393.5 395.6 394.0 403.8C394.5 412.0 395.1 420.5 395.6 428.4C396.2 436.8 396.7 444.3 397.3 452.9C397.9 461.5 398.4 470.4 399.0 480.0C399.9 495.2 400.8 514.1 401.7 529.1C402.8 546.9 403.8 561.8 404.9 578.2C406.0 594.6 407.0 610.1 408.1 627.3C409.1 642.9 410.0 661.9 411.0 676.4C412.2 694.9 413.5 709.2 414.7 725.6C415.9 742.0 417.2 758.3 418.4 774.7C419.6 791.1 420.9 810.6 422.1 823.8C424.0 843.8 425.8 858.8 427.7 872.9C429.3 885.0 430.9 892.9 432.5 905.0C433.4 911.6 434.2 922.0 435.1 927.0C436.9 937.4 438.7 943.2 440.5 949.1C443.0 957.1 445.4 964.0 447.9 968.8C451.2 975.2 454.4 980.3 457.7 983.5C462.6 988.4 467.5 992.6 472.4 994.0C479.0 995.8 485.5 996.9 492.1 997.3C497.8 997.7 503.5 998.0 509.2 998.0C517.4 998.0 525.6 997.7 533.8 997.3C540.4 997.0 546.9 996.4 553.5 995.6C560.0 994.8 566.6 993.8 573.1 992.1C578.0 990.9 582.9 988.6 587.8 986.0C592.7 983.4 597.7 979.3 602.6 974.9C606.7 971.2 610.8 966.6 614.9 961.4C618.2 957.2 621.4 952.4 624.7 946.7C628.0 941.0 631.2 931.8 634.5 926.0C637.8 920.2 641.0 914.5 644.3 910.8C647.6 907.1 650.8 903.3 654.1 902.0C657.0 900.9 659.8 899.8 662.7 899.8C665.5 899.8 668.2 901.3 671.0 902.5C674.0 903.8 677.0 905.5 680.0 908.5C682.3 910.8 684.5 916.9 686.8 921.3C689.1 925.7 691.3 930.4 693.6 934.9C695.9 939.4 698.1 944.5 700.4 948.5C702.7 952.5 704.9 956.1 707.2 959.4C709.9 963.4 712.7 966.9 715.4 970.3C719.0 974.7 722.6 979.6 726.2 982.5C729.8 985.4 733.5 987.6 737.1 989.3C740.7 991.0 744.4 993.1 748.0 993.4C753.4 993.9 758.9 994.2 764.3 994.2C767.9 994.2 771.6 992.9 775.2 992.0C779.7 990.8 784.3 989.2 788.8 987.1C792.4 985.4 796.1 982.9 799.7 979.8C802.4 977.5 805.1 973.9 807.8 970.3C810.5 966.7 813.3 963.2 816.0 958.0C818.3 953.7 820.5 946.8 822.8 940.4C824.6 935.4 826.4 930.2 828.2 924.0C829.6 919.3 830.9 913.5 832.3 907.7C833.7 901.9 835.0 895.0 836.4 888.7C837.8 882.4 839.1 876.1 840.5 869.7C841.8 863.4 843.2 856.9 844.5 850.6C845.9 844.2 847.2 837.4 848.6 831.6C850.0 825.8 851.3 821.2 852.7 815.3C854.1 809.4 855.4 802.5 856.8 796.2C858.2 789.9 859.5 781.5 860.9 777.2C862.2 773.0 863.6 770.6 864.9 767.7C866.7 763.8 868.6 758.0 870.4 757.0C872.2 756.0 874.0 755.2 875.8 755.2C877.6 755.2 879.5 755.7 881.3 756.4C883.1 757.1 884.9 764.2 886.7 769.0C888.5 773.8 890.3 779.6 892.1 785.4C893.9 791.3 895.8 797.0 897.6 804.4C898.9 809.8 900.3 817.1 901.6 823.4C903.0 829.8 904.3 836.2 905.7 842.5C907.1 848.8 908.4 855.2 909.8 861.5C911.2 867.8 912.5 874.2 913.9 880.5C915.3 886.8 916.6 893.7 918.0 899.6C919.3 905.4 920.7 910.9 922.0 915.9C923.8 922.8 925.7 929.6 927.5 934.9C929.3 940.1 931.1 944.2 932.9 948.5C934.7 952.8 936.6 957.7 938.4 960.8C940.7 964.6 942.9 967.9 945.2 969.7C947.5 971.5 949.7 973.0 952.0 973.6C955.6 974.5 959.2 975.2 962.8 975.2C966.0 975.2 969.2 974.4 972.4 973.6C975.6 972.8 978.7 969.3 981.9 967.6C985.5 965.7 989.2 964.9 992.8 962.7C996.4 960.5 1000.0 955.5 1003.6 952.6C1008.1 949.0 1012.7 946.8 1017.2 943.1C1020.4 940.5 1023.6 937.4 1026.8 933.6C1029.1 930.9 1031.3 924.6 1033.6 923.5C1036.3 922.2 1039.0 922.3 1041.7 921.3C1043.5 920.6 1045.4 918.1 1047.2 918.1C1050.8 918.1 1054.4 918.9 1058.0 920.0C1060.7 920.8 1063.5 923.8 1066.2 926.2C1069.4 929.0 1072.5 932.4 1075.7 936.3C1078.9 940.2 1082.0 945.9 1085.2 949.9C1088.8 954.5 1092.5 958.3 1096.1 962.1C1100.6 966.9 1105.2 972.4 1109.7 975.7C1113.3 978.3 1117.0 981.0 1120.6 982.0C1124.2 983.0 1127.9 983.9 1131.5 983.9C1135.1 983.9 1138.7 982.7 1142.3 981.7C1146.4 980.5 1150.5 978.4 1154.6 975.7C1158.7 973.0 1162.7 967.6 1166.8 963.5C1170.4 959.9 1174.1 956.8 1177.7 952.6C1181.3 948.4 1185.0 942.4 1188.6 937.7C1193.1 931.9 1197.7 925.7 1202.2 921.3C1204.9 918.7 1207.6 915.5 1210.3 914.5C1213.0 913.5 1215.8 912.6 1218.5 912.6C1221.7 912.6 1224.8 913.5 1228.0 914.5C1232.0 915.8 1236.0 921.2 1240.0 926.0C1242.3 928.7 1244.5 932.8 1246.8 936.3C1249.1 939.8 1251.3 944.1 1253.6 947.2C1256.3 950.9 1259.1 953.8 1261.8 956.7C1264.1 959.1 1266.3 961.9 1268.6 963.5C1271.8 965.7 1274.9 966.9 1278.1 968.4C1282.2 970.3 1286.2 973.6 1290.3 973.6C1297.1 973.6 1303.9 973.6 1310.7 973.6C1315.2 973.6 1319.8 970.9 1324.3 969.7C1327.9 968.7 1331.6 967.4 1335.2 966.8C1337.9 966.3 1340.6 966.2 1343.3 965.7C1346.9 965.1 1350.6 962.7 1354.2 962.7C1358.7 962.7 1363.3 962.7 1367.8 962.7C1371.4 962.7 1375.1 964.4 1378.7 964.9C1382.3 965.4 1386.0 965.5 1389.6 965.9C1393.2 966.3 1396.9 967.6 1400.5 967.6C1405.0 967.6 1409.6 967.1 1414.1 966.5C1417.7 966.0 1421.3 964.1 1424.9 962.7C1427.2 961.8 1429.4 961.2 1431.7 959.9C1434.4 958.3 1437.2 954.5 1439.9 951.2C1443.1 947.4 1446.2 941.8 1449.4 937.7C1452.1 934.2 1454.9 931.7 1457.6 928.1C1460.3 924.5 1463.0 919.7 1465.7 915.9C1468.4 912.0 1471.2 907.8 1473.9 905.0C1476.6 902.2 1479.3 899.5 1482.0 898.2C1485.2 896.7 1488.4 895.0 1491.6 895.0C1493.9 895.0 1496.1 895.6 1498.4 896.3C1500.7 897.0 1502.9 900.6 1505.2 902.3C1507.9 904.4 1510.6 905.1 1513.3 907.7C1515.6 909.9 1517.8 914.6 1520.1 918.6C1522.8 923.4 1525.6 930.2 1528.3 934.9C1531.0 939.5 1533.7 943.4 1536.4 947.2C1539.1 951.1 1541.9 954.9 1544.6 958.0C1548.2 962.2 1551.9 965.6 1555.5 968.9C1559.6 972.6 1563.6 977.2 1567.7 979.3C1572.7 981.9 1577.7 984.7 1582.7 984.7C1589.0 984.7 1595.4 984.7 1601.7 984.7C1607.1 984.7 1612.6 981.7 1618.0 981.2C1621.6 980.9 1625.3 980.9 1628.9 980.6C1632.5 980.3 1636.2 978.2 1639.8 977.4C1644.3 976.4 1648.9 975.1 1653.4 974.9C1658.8 974.6 1664.3 974.7 1669.7 974.4C1674.2 974.2 1678.8 973.2 1683.3 972.2C1686.9 971.4 1690.6 969.2 1694.2 968.4C1698.7 967.4 1703.3 967.2 1707.8 966.2C1711.4 965.4 1715.1 963.7 1718.7 962.9C1723.2 962.0 1727.8 960.8 1732.3 960.8C1735.9 960.8 1739.5 961.0 1743.1 961.3C1745.8 961.5 1748.6 962.4 1751.3 962.9C1754.9 963.6 1758.6 964.4 1762.2 965.1C1766.7 965.9 1771.3 966.7 1775.8 967.3C1780.3 967.9 1784.9 968.7 1789.4 968.7C1792.9 968.7 1796.5 968.7 1800.0 968.6C1805.4 968.5 1810.9 967.9 1816.3 967.6C1820.8 967.3 1825.4 966.8 1829.9 966.8C1838.1 966.8 1846.2 967.5 1854.4 968.4C1861.7 969.2 1868.9 973.6 1876.2 974.4C1882.5 975.1 1888.9 975.7 1895.2 975.7C1899.7 975.7 1904.3 975.5 1908.8 975.2C1916.0 974.8 1923.3 972.4 1930.5 971.7C1936.9 971.1 1943.2 970.3 1949.6 970.3C1954.1 970.3 1958.7 971.2 1963.2 971.7C1970.4 972.5 1977.7 974.6 1984.9 974.6C1994.0 974.6 2003.0 974.5 2012.1 974.4C2023.0 974.3 2033.9 973.8 2044.8 973.8C2059.3 973.8 2073.8 973.8 2088.3 973.8C2094.6 973.8 2101.0 971.8 2107.3 970.8C2113.7 969.8 2120.0 967.6 2126.4 967.6C2132.7 967.6 2139.1 967.9 2145.4 968.4C2149.9 968.7 2154.5 971.1 2159.0 972.5C2166.3 974.8 2173.5 977.2 2180.8 979.8C2188.0 982.4 2195.3 986.5 2202.5 988.0C2207.0 989.0 2211.6 990.1 2216.1 990.1C2224.3 990.1 2232.4 990.1 2240.6 990.1C2247.8 990.1 2255.1 987.8 2262.3 986.6C2269.6 985.4 2276.8 984.0 2284.1 983.1C2291.3 982.2 2298.6 981.3 2305.8 980.9C2313.1 980.5 2320.3 980.1 2327.6 980.1C2335.2 980.1 2342.9 980.2 2350.5 980.6"/>
<path class="curve" stroke="#C276E3" d="M191.5 672.0C254.3 672.0 317.2 672.0 380.0 672.0C384.2 672.0 388.4 672.0 392.6 671.9C395.5 671.9 398.4 671.4 401.3 670.8C403.2 670.4 405.2 668.8 407.1 667.2C408.5 666.0 410.0 664.3 411.4 662.1C412.6 660.2 413.9 657.5 415.1 654.2C416.1 651.6 417.0 648.4 418.0 644.0C418.7 640.8 419.4 635.8 420.1 630.9C420.8 625.8 421.6 619.7 422.3 613.5C422.9 608.1 423.6 602.2 424.2 596.1C424.8 590.6 425.3 584.3 425.9 578.7C426.5 572.7 427.1 567.9 427.7 561.3C428.2 556.2 428.6 550.2 429.1 543.9C429.5 538.5 429.9 532.2 430.3 526.4C430.7 520.6 431.1 515.3 431.5 509.0C431.8 503.7 432.2 497.3 432.5 491.6C432.7 487.6 433.0 485.1 433.2 480.0C433.4 474.9 433.7 468.6 433.9 457.8C434.1 450.1 434.2 424.7 434.4 418.5C435.0 395.1 435.7 391.3 436.3 379.2C437.0 365.1 437.8 352.5 438.5 340.0C439.4 324.6 440.3 310.2 441.2 295.8C442.0 282.4 442.9 268.7 443.7 256.5C444.7 242.4 445.6 229.4 446.6 217.2C447.4 206.7 448.3 196.4 449.1 187.7C450.2 176.6 451.2 166.2 452.3 158.2C453.7 147.9 455.0 136.9 456.4 132.5C457.9 127.8 459.3 125.5 460.8 123.0C461.6 121.7 462.3 119.6 463.1 119.6C463.8 119.6 464.5 121.5 465.2 122.6C466.3 124.3 467.4 125.9 468.5 128.6C470.6 133.9 472.8 144.9 474.9 158.2C475.9 164.2 476.8 174.3 477.8 182.8C478.9 192.2 479.9 201.7 481.0 212.3C482.1 222.9 483.1 235.5 484.2 246.6C485.3 258.4 486.5 267.7 487.6 281.0C488.4 290.8 489.3 305.3 490.1 315.4C491.2 328.3 492.2 336.6 493.3 349.8C494.1 359.7 494.9 374.3 495.7 384.2C496.8 397.4 497.8 406.7 498.9 418.5C499.9 429.6 500.9 442.0 501.9 452.9C502.8 462.7 503.7 473.6 504.6 481.0C506.2 493.9 507.7 499.7 509.3 512.0C510.5 521.4 511.7 536.2 512.9 546.3C514.5 560.1 516.2 573.5 517.8 583.1C519.9 595.2 521.9 605.1 524.0 612.6C526.9 623.0 529.7 631.1 532.6 637.2C536.3 645.0 539.9 651.6 543.6 655.6C547.7 660.1 551.8 663.4 555.9 665.4C560.8 667.7 565.7 669.8 570.6 670.3C578.8 671.1 587.0 671.5 595.2 671.6C610.1 671.8 625.1 672.0 640.0 672.0C653.3 672.0 666.7 671.9 680.0 671.8C685.4 671.7 690.9 671.3 696.3 670.8C701.7 670.3 707.2 669.8 712.6 668.6C716.2 667.8 719.9 666.0 723.5 664.0C726.2 662.5 729.0 660.4 731.7 657.7C734.4 655.1 737.1 651.2 739.8 646.9C742.5 642.5 745.3 636.0 748.0 630.5C750.7 625.1 753.4 619.4 756.1 614.2C758.8 609.0 761.6 603.5 764.3 599.3C767.0 595.1 769.8 591.0 772.5 588.4C775.0 586.0 777.6 582.6 780.1 582.6C783.0 582.6 785.9 587.9 788.8 589.7C791.5 591.4 794.2 591.7 796.9 593.8C799.2 595.6 801.4 600.5 803.7 604.7C806.0 608.9 808.2 615.0 810.5 619.7C813.2 625.4 816.0 631.8 818.7 636.0C822.3 641.6 826.0 645.6 829.6 649.6C834.1 654.5 838.7 659.9 843.2 662.6C847.7 665.3 852.3 667.2 856.8 668.6C860.4 669.7 864.0 671.1 867.6 671.1C875.8 671.1 883.9 671.1 892.1 671.1C896.6 671.1 901.2 669.6 905.7 668.1C909.3 666.9 913.0 663.7 916.6 660.5C921.1 656.5 925.7 651.0 930.2 644.1C932.9 639.9 935.7 634.4 938.4 627.8C940.2 623.4 942.0 615.4 943.8 611.5C946.5 605.5 949.3 602.3 952.0 597.9C955.2 592.8 958.3 586.2 961.5 582.9C964.7 579.6 967.8 577.6 971.0 575.6C973.7 573.9 976.5 573.1 979.2 571.3C981.9 569.5 984.6 565.8 987.3 563.9C990.9 561.3 994.6 560.0 998.2 557.7C1000.9 555.9 1003.7 552.5 1006.4 551.7C1009.1 550.9 1011.8 551.0 1014.5 550.3C1018.3 549.3 1022.1 544.3 1025.9 544.3C1028.5 544.3 1031.0 547.7 1033.6 550.3C1036.3 553.1 1039.0 557.8 1041.7 562.6C1045.3 569.1 1049.0 578.7 1052.6 587.0C1055.3 593.2 1058.1 600.0 1060.8 606.1C1063.5 612.2 1066.2 618.3 1068.9 623.7C1071.6 629.1 1074.4 634.6 1077.1 638.7C1080.7 644.1 1084.4 649.3 1088.0 652.3C1091.6 655.3 1095.3 657.9 1098.9 659.1C1101.6 660.0 1104.3 661.0 1107.0 661.0C1109.7 661.0 1112.5 659.8 1115.2 658.6C1117.9 657.4 1120.6 654.4 1123.3 650.9C1126.0 647.4 1128.8 640.7 1131.5 634.6C1134.2 628.6 1136.9 621.2 1139.6 614.2C1142.3 607.1 1145.1 599.5 1147.8 592.5C1149.6 587.9 1151.4 582.1 1153.2 578.9C1155.9 574.0 1158.7 571.7 1161.4 568.0C1164.1 564.3 1166.8 557.9 1169.5 556.6C1171.3 555.7 1173.2 554.9 1175.0 554.9C1177.7 554.9 1180.4 555.9 1183.1 557.1C1185.8 558.4 1188.6 564.9 1191.3 569.4C1194.0 573.9 1196.8 579.1 1199.5 584.3C1202.2 589.5 1204.9 595.7 1207.6 600.6C1211.2 607.2 1214.9 613.5 1218.5 618.3C1222.1 623.1 1225.8 627.0 1229.4 630.5C1232.9 633.9 1236.5 636.8 1240.0 639.6C1243.6 642.5 1247.3 646.2 1250.9 647.7C1253.6 648.8 1256.3 648.9 1259.0 650.1C1260.8 650.9 1262.7 653.7 1264.5 654.5C1267.7 655.9 1270.8 655.9 1274.0 657.2C1276.3 658.1 1278.5 660.5 1280.8 661.5C1284.4 663.0 1288.1 664.0 1291.7 664.8C1296.2 665.8 1300.8 666.7 1305.3 667.3C1309.4 667.8 1313.4 668.6 1317.5 668.6C1322.0 668.6 1326.6 668.0 1331.1 667.3C1335.2 666.7 1339.2 664.6 1343.3 663.2C1346.0 662.3 1348.8 661.7 1351.5 660.5C1354.2 659.3 1357.0 656.9 1359.7 655.6C1364.2 653.4 1368.8 651.6 1373.3 650.1C1377.8 648.6 1382.4 646.5 1386.9 646.3C1390.5 646.1 1394.1 646.0 1397.7 646.0C1401.3 646.0 1405.0 646.9 1408.6 646.9C1413.1 646.9 1417.7 646.2 1422.2 645.8C1426.7 645.4 1431.3 645.3 1435.8 644.7C1438.5 644.3 1441.3 642.0 1444.0 641.4C1447.6 640.6 1451.2 640.7 1454.8 639.8C1457.5 639.1 1460.3 636.1 1463.0 634.6C1466.2 632.9 1469.3 630.2 1472.5 630.0C1476.6 629.7 1480.7 629.5 1484.8 629.5C1489.8 629.5 1494.7 629.5 1499.7 629.5C1502.4 629.5 1505.2 631.2 1507.9 631.9C1510.2 632.4 1512.4 632.6 1514.7 633.3C1517.9 634.3 1521.0 638.7 1524.2 640.3C1528.3 642.3 1532.3 643.0 1536.4 644.7C1539.1 645.8 1541.9 647.6 1544.6 648.5C1547.3 649.4 1550.1 650.0 1552.8 650.7C1556.0 651.5 1559.1 653.1 1562.3 653.1C1565.0 653.1 1567.7 652.7 1570.4 652.3C1573.1 651.9 1575.9 650.8 1578.6 649.6C1581.8 648.2 1584.9 645.6 1588.1 642.8C1590.8 640.4 1593.6 636.9 1596.3 633.3C1599.0 629.8 1601.7 625.1 1604.4 621.0C1607.1 616.9 1609.9 612.7 1612.6 608.8C1615.3 605.0 1618.0 600.7 1620.7 597.9C1623.0 595.5 1625.2 593.3 1627.5 592.1C1629.6 591.0 1631.8 589.7 1633.9 589.7C1636.3 589.7 1638.7 590.7 1641.1 591.6C1643.8 592.6 1646.6 594.5 1649.3 596.5C1652.0 598.5 1654.8 601.6 1657.5 604.7C1660.2 607.8 1662.9 611.6 1665.6 615.6C1667.9 618.9 1670.1 623.9 1672.4 626.5C1675.1 629.7 1677.9 631.7 1680.6 633.8C1683.3 635.9 1686.0 637.4 1688.7 639.2C1691.0 640.7 1693.2 643.0 1695.5 643.6C1697.8 644.2 1700.0 644.7 1702.3 644.7C1706.8 644.7 1711.4 644.4 1715.9 644.1C1719.5 643.8 1723.2 642.1 1726.8 641.4C1730.4 640.7 1734.1 640.4 1737.7 639.5C1740.4 638.8 1743.1 636.8 1745.8 636.0C1748.5 635.2 1751.3 634.5 1754.0 634.1C1756.7 633.7 1759.5 633.3 1762.2 633.3C1764.9 633.3 1767.6 633.7 1770.3 634.1C1773.9 634.7 1777.6 636.7 1781.2 638.2C1784.8 639.7 1788.5 641.4 1792.1 643.3C1794.7 644.7 1797.4 646.2 1800.0 647.8C1803.6 649.9 1807.3 652.7 1810.9 654.5C1814.1 656.1 1817.2 658.6 1820.4 658.6C1825.4 658.6 1830.4 658.6 1835.4 658.6C1839.5 658.6 1843.5 656.7 1847.6 655.0C1851.7 653.3 1855.7 648.0 1859.8 645.5C1863.4 643.3 1867.1 641.5 1870.7 640.1C1874.3 638.7 1878.0 637.2 1881.6 636.8C1885.2 636.4 1888.9 636.0 1892.5 636.0C1897.0 636.0 1901.6 637.5 1906.1 638.7C1910.6 639.9 1915.2 643.0 1919.7 644.7C1923.3 646.0 1926.9 646.8 1930.5 648.2C1935.0 650.0 1939.6 653.5 1944.1 655.0C1949.6 656.8 1955.0 658.4 1960.5 659.1C1965.9 659.8 1971.4 660.5 1976.8 660.5C1982.2 660.5 1987.7 660.2 1993.1 660.2C1999.4 660.2 2005.8 660.8 2012.1 661.3C2018.0 661.7 2023.9 663.2 2029.8 663.2C2034.8 663.2 2039.8 662.0 2044.8 661.0C2049.3 660.1 2053.9 658.2 2058.4 656.4C2062.9 654.6 2067.5 651.8 2072.0 650.1C2076.5 648.4 2081.1 646.6 2085.6 646.0C2088.8 645.6 2091.9 645.2 2095.1 645.2C2101.0 645.2 2106.9 646.5 2112.8 647.7C2117.3 648.6 2121.9 651.0 2126.4 652.3C2130.9 653.6 2135.5 655.1 2140.0 655.6C2144.1 656.0 2148.1 656.4 2152.2 656.4C2156.3 656.4 2160.3 655.4 2164.4 654.5C2168.9 653.5 2173.5 651.1 2178.0 649.0C2182.5 646.9 2187.1 644.0 2191.6 641.4C2195.2 639.4 2198.9 636.4 2202.5 635.2C2206.1 634.0 2209.8 632.7 2213.4 632.7C2216.1 632.7 2218.8 633.0 2221.5 633.3C2226.0 633.8 2230.6 637.1 2235.1 639.5C2239.6 641.9 2244.2 645.5 2248.7 647.7C2253.2 649.9 2257.8 652.7 2262.3 653.1C2266.8 653.5 2271.4 653.7 2275.9 653.7C2280.4 653.7 2285.0 651.5 2289.5 650.4C2294.0 649.3 2298.6 647.8 2303.1 646.9C2307.6 646.0 2312.2 644.7 2316.7 644.7C2322.2 644.7 2327.6 644.8 2333.1 645.0C2335.8 645.1 2338.5 647.3 2341.2 647.7C2344.3 648.1 2347.4 648.5 2350.5 648.5"/>
</g>
<g class="axes" fill="#000">
<rect x="188" y="55" width="7" height="1746"/>
<rect x="2347" y="55" width="7" height="1746"/>
<rect x="188" y="55" width="2166" height="7"/>
<rect x="188" y="1795" width="2166" height="6"/>
<rect x="195" y="1692" width="30" height="7"/>
<rect x="195" y="1487" width="13" height="7"/>
<rect x="195" y="1283" width="30" height="7"/>
<rect x="195" y="1079" width="13" height="7"/>
<rect x="195" y="874" width="30" height="7"/>
<rect x="195" y="669" width="13" height="7"/>
<rect x="195" y="464" width="30" height="7"/>
<rect x="195" y="259" width="13" height="7"/>
<rect x="293.0" y="1764" width="7" height="31"/>
<rect x="586.0" y="1781" width="7" height="14"/>
<rect x="880.0" y="1764" width="7" height="31"/>
<rect x="1174.0" y="1781" width="7" height="14"/>
<rect x="1467.0" y="1764" width="7" height="31"/>
<rect x="1760.0" y="1781" width="7" height="14"/>
<rect x="2054.0" y="1764" width="7" height="31"/>
</g>
<g class="tick">
<text x="153.5" y="1716.1" text-anchor="end">0</text>
<text x="153.5" y="1306.9" text-anchor="end">1</text>
<text x="153.5" y="897.6" text-anchor="end">2</text>
<text x="153.5" y="488.4" text-anchor="end">3</text>
<text x="153.5" y="79.1" text-anchor="end">4</text>
<text x="296.5" y="1891.0" text-anchor="middle">0.25</text>
<text x="883.5" y="1891.0" text-anchor="middle">0.50</text>
<text x="1470.5" y="1891.0" text-anchor="middle">0.75</text>
<text x="2057.5" y="1891.0" text-anchor="middle">1.00</text>
</g>
<text class="title" x="1270.3" y="2032.0" text-anchor="middle">r (nm)</text>
<text class="title" text-anchor="middle" transform="translate(79.5 928.0) rotate(-90)">g (r)</text>
<g class="lab">
<text x="2212.4" y="586.5">Ih</text>
<text x="2219" y="941.5">β</text>
<text x="2203" y="1222.5">α<tspan dx="8">′</tspan></text>
<text x="2224" y="1410.2">γ</text>
<text x="2209.5" y="1642">α</text>
</g>
</svg>
</body>
</html>
